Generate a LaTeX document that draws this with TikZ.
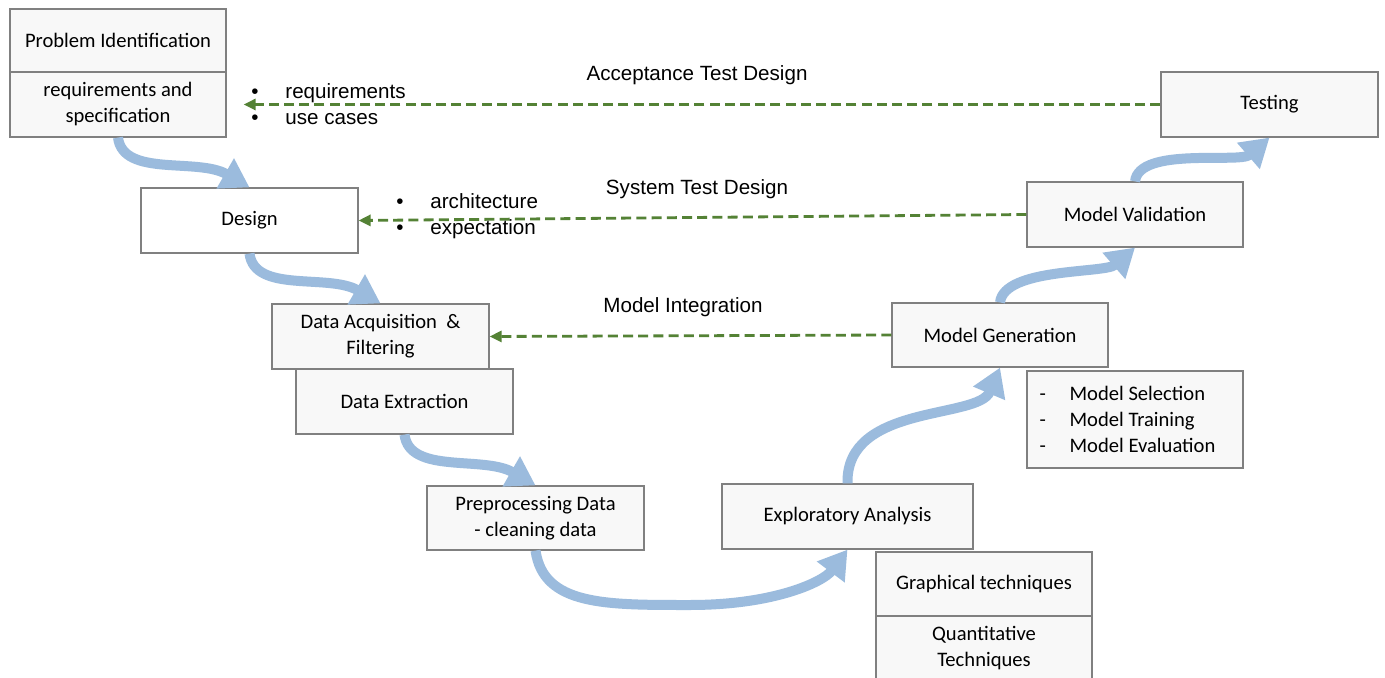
\documentclass[tikz,border=0pt]{standalone}
\usepackage{fontspec}
\setmainfont{Carlito}
\newfontfamily\arialf{Liberation Sans}
\usetikzlibrary{arrows.meta,calc}
\definecolor{flowblue}{HTML}{9BBBDD}
\definecolor{dashgreen}{HTML}{548235}
\definecolor{boxline}{HTML}{808080}
\definecolor{boxfill}{HTML}{F8F8F8}
\tikzset{
  box/.style={draw=boxline, line width=0.6pt, fill=boxfill, inner sep=0pt, align=center,
    minimum width=108pt, minimum height=32.5pt,
    font=\fontsize{10.3}{13}\selectfont},
  flow/.style={draw=flowblue, line width=5pt, -{Triangle[length=14pt,width=16.5pt]}},
  back/.style={draw=dashgreen, line width=1.4pt, dash pattern=on 5pt off 2.6pt,
    -{Triangle[length=6pt,width=5.5pt]}},
  lbl/.style={font=\arialf\fontsize{10.3}{13}\selectfont, inner sep=0pt},
  lst/.style={font=\arialf\fontsize{10.3}{13}\selectfont, inner sep=0pt, align=left, anchor=west},
}
\begin{document}
\begin{tikzpicture}[x=0.5pt,y=-0.5pt]
\useasboundingbox (0,0) rectangle (1385,678);
\clip (0,0) rectangle (1385,678);
\fill[white] (0,0) rectangle (1385,678);

% boxes
\node[box, minimum height=31.5pt] (ptop) at (118,40.5) {Problem Identification};
\node[box] (pbot) at (118,104.5) {requirements and\\specification};
\node[box, fill=white, minimum width=108.5pt] (design) at (249.5,220.5) {Design};
\node[box, minimum width=108.5pt] (dacq) at (380.5,336.5) {Data Acquisition~ \&\\Filtering};
\node[box, minimum width=108.5pt] (dext) at (404.5,401.5) {Data Extraction};
\node[box, minimum width=108.5pt, minimum height=32pt] (prep) at (535.5,518) {Preprocessing Data\\- cleaning data};
\node[box, minimum width=125.5pt] (explor) at (847.5,516.5) {Exploratory Analysis};
\node[box, minimum height=32pt] (graph) at (984,584) {Graphical techniques};
\node[box] (quant) at (984,648.5) {Quantitative\\Techniques};
\node[box, minimum height=32pt] (mgen) at (1000,335) {Model Generation};
\node[box, minimum height=48.5pt] (mlist) at (1135,419.5) {};
\node[box] (mval) at (1135,214.5) {Model Validation};
\node[box, minimum width=108.5pt] (testing) at (1269.5,104.5) {Testing};

\node[box, draw=none, fill=none, minimum width=0pt, minimum height=0pt, anchor=west, align=left] (mitems) at (1039,419)
  {\makebox[15pt][l]{-}Model Selection\\\makebox[15pt][l]{-}Model Training\\\makebox[15pt][l]{-}Model Evaluation};

% blue flow arrows
\coordinate (ubot) at (690,605);
\draw[flow] (pbot.south) .. controls +(5,40) and +(-52,-30) .. (design.north);
\draw[flow] (design.south) .. controls +(5,40) and +(-52,-30) .. (dacq.north);
\draw[flow] (dext.south) .. controls +(5,40) and +(-52,-30) .. (prep.north);
\draw[flow] (prep.south) .. controls +(8,55) and +(-85,0) .. (ubot)
            .. controls +(85,0) and +(-24,32) .. (explor.south);
\draw[flow] (explor.north) .. controls +(-2,-80) and +(-22,52) .. (mgen.south);
\draw[flow] (mgen.north) .. controls +(4,-35) and +(-30,26) .. (mval.south);
\draw[flow] (mval.north) .. controls +(4,-35) and +(-30,26) .. (testing.south);

% green dashed feedback arrows
\coordinate (accEnd) at ($(pbot.east)+(17,0)$);
\draw[back] (testing.west) -- (accEnd);
\draw[back] (mval.west) -- (design.east);
\draw[back] (mgen.west) -- (dacq.east);

% labels
\node[lbl] (acc) at (697,75) {Acceptance Test Design};
\node[lbl] (sys) at (697,189) {System Test Design};
\node[lbl] (integ) at (683,307) {Model Integration};
\node[lst] (req) at (251,104) {\makebox[17pt][l]{•}requirements\\\makebox[17pt][l]{•}use cases};
\node[lst] (arch) at (396,216) {\makebox[17pt][l]{•}architecture\\\makebox[17pt][l]{•}expectation};
\end{tikzpicture}
\end{document}
